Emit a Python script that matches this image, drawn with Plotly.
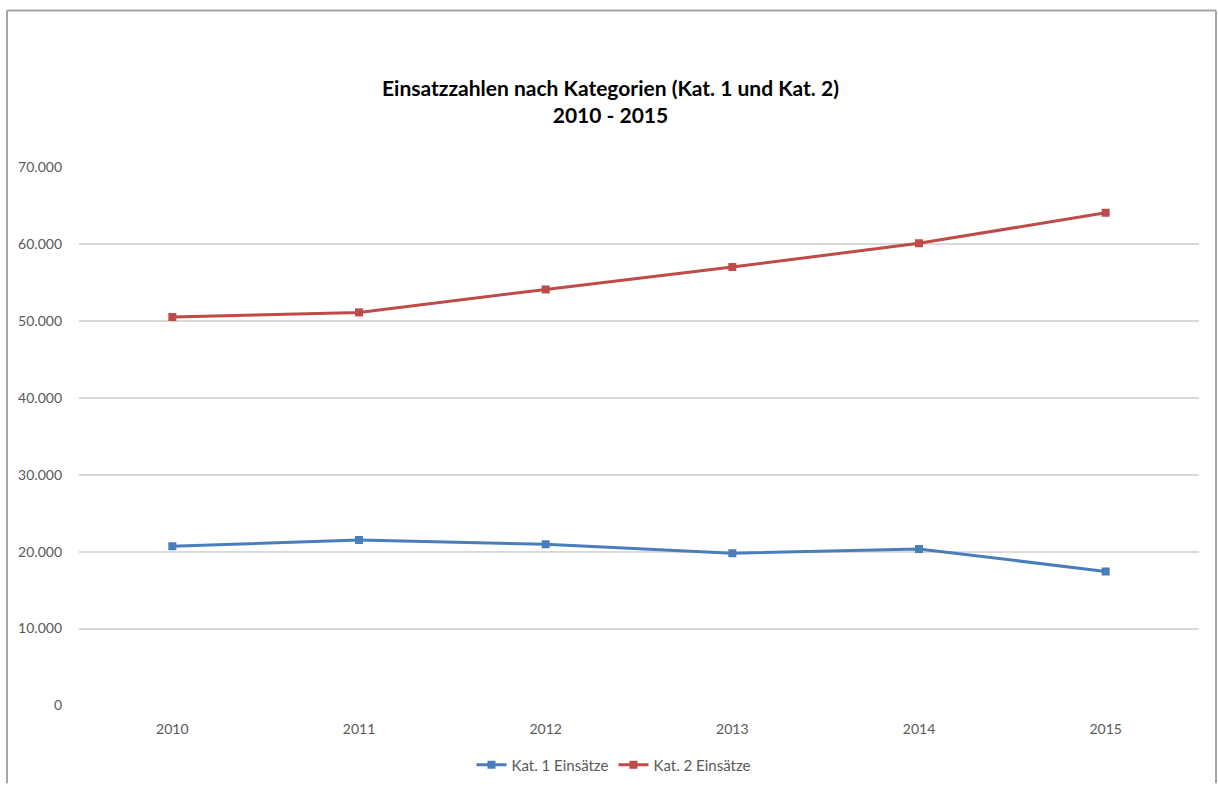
import plotly.graph_objects as go

years = ["2010", "2011", "2012", "2013", "2014", "2015"]
kat1 = [20700, 21500, 20950, 19800, 20350, 17430]
kat2 = [50500, 51100, 54080, 57000, 60080, 64050]
y_ticks = [0, 10000, 20000, 30000, 40000, 50000, 60000, 70000]

W, H = 1218, 785
font = "Lato, 'Open Sans', sans-serif"
blue = "#4A7EBB"
red = "#BE4B48"

fig = go.Figure()
fig.add_trace(go.Scatter(x=years, y=kat1, name="Kat. 1 Einsätze", mode="lines+markers",
                         line=dict(color=blue, width=3),
                         marker=dict(symbol="square", size=8, color=blue)))
fig.add_trace(go.Scatter(x=years, y=kat2, name="Kat. 2 Einsätze", mode="lines+markers",
                         line=dict(color=red, width=3),
                         marker=dict(symbol="square", size=8, color=red)))

fig.update_layout(
    width=W, height=H,
    margin=dict(l=79, r=19, t=167, b=78),
    paper_bgcolor="white", plot_bgcolor="white",
    separators=",.",
    font=dict(family=font, color="#595959", size=13),
    showlegend=True,
    legend=dict(orientation="h", xanchor="center", x=(614 - 79) / 1120, yref="container",
                yanchor="middle", y=1 - 765 / H, font=dict(size=15, color="#595959"),
                itemwidth=30),
    annotations=[dict(text="<b>Einsatzzahlen nach Kategorien (Kat. 1 und Kat. 2)<br>2010 - 2015</b>",
                      xref="paper", yref="paper", x=(610 - 79) / (1199 - 79),
                      y=1 + (167 - 101) / (707 - 167), xanchor="center", yanchor="middle",
                      showarrow=False, font=dict(family=font, size=21, color="#000000"))],
    shapes=[
        dict(type="line", xref="paper", yref="paper",
             x0=(7 - 79) / 1120, x1=(7 - 79) / 1120, y0=1 + (167 - 10) / 540, y1=-(785 - 707) / 540,
             line=dict(color="#A6A6A6", width=2)),
        dict(type="line", xref="paper", yref="paper",
             x0=(1216 - 79) / 1120, x1=(1216 - 79) / 1120, y0=1 + (167 - 10) / 540, y1=-(785 - 707) / 540,
             line=dict(color="#A6A6A6", width=2)),
        dict(type="line", xref="paper", yref="paper",
             x0=(7 - 79) / 1120, x1=(1216 - 79) / 1120, y0=1 + (167 - 10) / 540, y1=1 + (167 - 10) / 540,
             line=dict(color="#A6A6A6", width=2)),
    ],
)
fig.update_xaxes(type="category", range=[-0.5, 5.5], showgrid=False, zeroline=False,
                 showline=False, ticks="", ticklabelstandoff=13,
                 tickfont=dict(size=14, color="#595959"))
fig.update_yaxes(range=[0, 70000], tickvals=y_ticks, tickformat=",d", showgrid=True,
                 gridcolor="#D9D9D9", gridwidth=2, zeroline=False, showline=False,
                 ticks="", ticklabelstandoff=16, tickfont=dict(size=14, color="#595959"))

fig.write_html("out.html")
